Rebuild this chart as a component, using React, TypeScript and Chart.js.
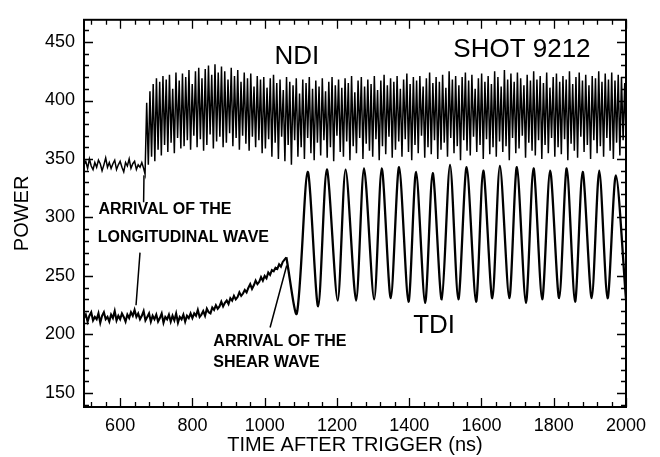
import React, { useEffect, useRef } from 'react';
import { Chart, registerables } from 'chart.js';

Chart.register(...registerables);

const FONT = '"Liberation Sans", Arial, Helvetica, sans-serif';

// Axis ranges and ticks
const X_MIN = 500;
const X_MAX = 2000;
const Y_MIN = 138;
const Y_MAX = 469;
const X_TICKS = [600, 800, 1000, 1200, 1400, 1600, 1800, 2000];
const Y_TICKS = [150, 200, 250, 300, 350, 400, 450];
const X_MINOR_STEP = 40;
const X_MAJOR_STEP = 200;
const Y_MINOR_STEP = 10;
const Y_MAJOR_STEP = 50;

// NDI signal: flat noisy part (sampled every 5 ns from 500 ns)
const NDI_PRE_START = 500;
const NDI_PRE_STEP = 5;
const NDI_PRE = [
  345, 348, 342, 350, 344, 341, 347, 343, 349, 346, 340, 345, 351, 343, 347, 342, 346,
  349, 341, 345, 348, 343, 339, 347, 344, 350, 342, 346, 348, 341, 345, 343, 347, 342,
];

// NDI signal after arrival of longitudinal wave (alternating extremes, every 4.5 ns from 669 ns)
const NDI_OSC_START = 669;
const NDI_OSC_STEP = 4.5;
const NDI_OSC = [
  337,
  398, 345, 408, 352, 414, 348, 419, 358, 416, 353, 421, 362,
  418, 356, 422, 364, 410, 355, 424, 368, 417, 359, 423, 361,
  420, 366, 426, 358, 414, 370, 425, 360, 428, 367, 419, 357,
  427, 362, 430, 371, 422, 359, 431, 365, 424, 369, 429, 360,
  425, 364, 418, 372, 428, 361, 421, 368, 426, 358, 416, 370,
  424, 363, 419, 357, 423, 369, 412, 360, 421, 366, 418, 355,
  420, 359, 411, 367, 419, 352, 422, 364, 415, 350, 418, 369,
  409, 348, 420, 362, 416, 345, 413, 366, 419, 352, 406, 360,
  418, 350, 415, 368, 420, 355, 410, 349, 417, 364, 412, 353,
  419, 366, 408, 351, 416, 360, 420, 348, 413, 370, 418, 356,
  411, 352, 419, 365, 415, 349, 421, 361, 407, 355, 417, 368,
  420, 350, 412, 363, 418, 357, 414, 352, 421, 367, 409, 349,
  417, 361, 422, 354, 413, 369, 419, 351, 416, 358, 421, 365,
  410, 352, 418, 367, 423, 356, 414, 349, 420, 362, 417, 355,
  421, 370, 412, 351, 419, 360, 424, 354, 415, 366, 420, 350,
  416, 358, 422, 364, 411, 352, 425, 368, 418, 355, 421, 361,
  413, 349, 420, 366, 424, 357, 417, 353, 422, 369, 410, 356,
  419, 362, 423, 350, 416, 367, 421, 354, 414, 360, 425, 352,
  420, 365, 412, 356, 426, 361, 418, 349, 423, 368, 416, 355,
  424, 359, 419, 370, 413, 351, 422, 364, 417, 357, 425, 353,
  418, 366, 421, 350, 415, 362, 424, 355, 411, 368, 420, 352,
  423, 360, 416, 354, 421, 367, 418, 349, 425, 363, 414, 357,
  420, 351, 424, 369, 417, 356, 422, 362, 413, 350, 421, 366,
  419, 355, 425, 361, 416, 352, 423, 368, 418, 357, 424, 350,
  417, 364, 422, 353, 420, 366, 415, 356, 423, 360, 419, 358,
];

// TDI signal before shear wave (every 5 ns from 500 ns to 1060 ns)
const TDI_PRE_START = 500;
const TDI_PRE_STEP = 5;
const TDI_PRE = [
  214, 217, 211, 216, 219, 212, 215, 213, 218, 210,
  216, 219, 213, 215, 211, 217, 214, 220, 212, 216,
  213, 218, 215, 211, 217, 214, 219, 216, 221, 215,
  218, 213, 216, 220, 212, 215, 218, 211, 216, 213,
  217, 211, 214, 218, 210, 215, 213, 217, 211, 216,
  212, 218, 210, 215, 213, 217, 211, 216, 214, 218,
  214, 218, 216, 221, 215, 217, 220, 216, 222, 219,
  218, 223, 221, 225, 222, 224, 228, 224, 227, 229,
  226, 231, 229, 233, 230, 232, 236, 233, 235, 238,
  236, 240, 243, 239, 242, 246, 243, 245, 249, 246,
  250, 248, 253, 251, 255, 254, 257, 256, 260, 258,
  262, 264, 266,
];

// TDI oscillation after shear wave arrival: extremes (time ns, power)
const TDI_OSC_T = [
  1060, 1089, 1119, 1148, 1172, 1202, 1224, 1253, 1275, 1303, 1324, 1349, 1372, 1398,
  1419, 1444, 1465, 1490, 1513, 1536, 1559, 1585, 1605, 1630, 1651, 1677, 1698, 1723,
  1744, 1768, 1790, 1815, 1836, 1859, 1880, 1905, 1926, 1949, 1972, 2000,
];
const TDI_OSC_V = [
  266, 218, 339, 224, 341, 229, 341, 229, 342, 230, 342, 231, 343, 228,
  339, 227, 338, 230, 345, 230, 343, 228, 340, 231, 344, 231, 343, 227,
  342, 230, 340, 231, 342, 228, 339, 231, 340, 231, 336, 230,
];

// Annotation texts (anchored in data coordinates)
const LABELS = [
  { text: 'NDI', t: 1089, v: 437, size: 26, weight: 'normal', align: 'center' },
  { text: 'SHOT 9212', t: 1712, v: 443.5, size: 26, weight: 'normal', align: 'center' },
  { text: 'TDI', t: 1469, v: 207, size: 26, weight: 'normal', align: 'center' },
  { text: 'ARRIVAL OF THE', t: 540, v: 306.5, size: 16, weight: 'bold', align: 'left' },
  { text: 'LONGITUDINAL WAVE', t: 538, v: 282.5, size: 16, weight: 'bold', align: 'left' },
  { text: 'ARRIVAL OF THE', t: 858, v: 193.5, size: 16, weight: 'bold', align: 'left' },
  { text: 'SHEAR WAVE', t: 858, v: 176, size: 16, weight: 'bold', align: 'left' },
];

// Pointer lines (data coordinates)
const POINTERS = [
  { t1: 666, v1: 336, t2: 665, v2: 313 },
  { t1: 655, v1: 270, t2: 644, v2: 225 },
  { t1: 1015, v1: 206, t2: 1061, v2: 259 },
];

function series(start: number, step: number, values: number[]) {
  return values.map((v, i) => ({ x: start + i * step, y: v }));
}

const framePlugin = {
  id: 'frameTicksLabels',
  afterDatasetsDraw(chart: any) {
    const { ctx, chartArea: a, scales } = chart;
    const xs = scales.x;
    const ys = scales.y;
    ctx.save();
    ctx.strokeStyle = '#000';
    ctx.lineCap = 'butt';
    // inward ticks
    ctx.lineWidth = 1.3;
    ctx.beginPath();
    for (let t = Math.ceil(X_MIN / X_MINOR_STEP) * X_MINOR_STEP; t <= X_MAX; t += X_MINOR_STEP) {
      const px = Math.round(xs.getPixelForValue(t)) + 0.5;
      const len = t % X_MAJOR_STEP === 0 ? 9 : 5;
      ctx.moveTo(px, a.bottom);
      ctx.lineTo(px, a.bottom - len);
      ctx.moveTo(px, a.top);
      ctx.lineTo(px, a.top + len);
    }
    for (let v = Math.ceil(Y_MIN / Y_MINOR_STEP) * Y_MINOR_STEP; v <= Y_MAX; v += Y_MINOR_STEP) {
      const py = Math.round(ys.getPixelForValue(v)) + 0.5;
      const len = v % Y_MAJOR_STEP === 0 ? 9 : 5;
      ctx.moveTo(a.left, py);
      ctx.lineTo(a.left + len, py);
      ctx.moveTo(a.right, py);
      ctx.lineTo(a.right - len, py);
    }
    ctx.stroke();
    // frame
    ctx.lineWidth = 2;
    ctx.strokeRect(a.left, a.top, a.right - a.left, a.bottom - a.top);

    // pointer lines
    ctx.lineWidth = 1.5;
    ctx.beginPath();
    for (const p of POINTERS) {
      ctx.moveTo(xs.getPixelForValue(p.t1), ys.getPixelForValue(p.v1));
      ctx.lineTo(xs.getPixelForValue(p.t2), ys.getPixelForValue(p.v2));
    }
    ctx.stroke();

    // labels
    ctx.fillStyle = '#000';
    ctx.textBaseline = 'middle';
    for (const l of LABELS) {
      ctx.font = `${l.weight} ${l.size}px ${FONT}`;
      ctx.textAlign = l.align as CanvasTextAlign;
      ctx.fillText(l.text, xs.getPixelForValue(l.t), ys.getPixelForValue(l.v));
    }
    ctx.restore();
  },
};

export default function App() {
  const ref = useRef<HTMLCanvasElement | null>(null);

  useEffect(() => {
    document.body.style.margin = '0';
    const canvas = ref.current;
    if (!canvas) return;
    const chart = new Chart(canvas, {
      type: 'line',
      data: {
        datasets: [
          {
            label: 'NDI',
            data: [
              ...series(NDI_PRE_START, NDI_PRE_STEP, NDI_PRE),
              ...series(NDI_OSC_START, NDI_OSC_STEP, NDI_OSC),
            ],
            borderColor: '#000',
            borderWidth: 1.5,
            pointRadius: 0,
            tension: 0,
          },
          {
            label: 'TDI pre',
            data: series(TDI_PRE_START, TDI_PRE_STEP, TDI_PRE),
            borderColor: '#000',
            borderWidth: 2.1,
            pointRadius: 0,
            tension: 0,
          },
          {
            label: 'TDI',
            data: TDI_OSC_T.map((t, i) => ({ x: t, y: TDI_OSC_V[i] })),
            borderColor: '#000',
            borderWidth: 2.3,
            pointRadius: 0,
            tension: 0.28,
          },
        ],
      },
      options: {
        animation: false,
        responsive: false,
        devicePixelRatio: 1,
        layout: { padding: { top: 13, right: 34, left: 0, bottom: 0 } },
        plugins: { legend: { display: false }, tooltip: { enabled: false } },
        scales: {
          x: {
            type: 'linear',
            min: X_MIN,
            max: X_MAX,
            afterBuildTicks: (s: any) => {
              s.ticks = X_TICKS.map((v) => ({ value: v }));
            },
            afterFit: (s: any) => {
              s.height = 50;
            },
            ticks: {
              callback: (v: any) => String(v),
              font: { family: FONT, size: 18 },
              color: '#000',
              padding: 8,
              maxRotation: 0,
              autoSkip: false,
            },
            grid: { display: false, drawTicks: false },
            border: { display: false },
            title: {
              display: true,
              text: 'TIME AFTER TRIGGER (ns)',
              font: { family: FONT, size: 20 },
              color: '#000',
              padding: { top: 0, bottom: 0 },
            },
          },
          y: {
            type: 'linear',
            min: Y_MIN,
            max: Y_MAX,
            afterBuildTicks: (s: any) => {
              s.ticks = Y_TICKS.map((v) => ({ value: v }));
            },
            afterFit: (s: any) => {
              s.width = 84;
            },
            ticks: {
              callback: (v: any) => String(v),
              font: { family: FONT, size: 18 },
              color: '#000',
              padding: 9,
              autoSkip: false,
            },
            grid: { display: false, drawTicks: false },
            border: { display: false },
            title: {
              display: true,
              text: 'POWER',
              font: { family: FONT, size: 20 },
              color: '#000',
              padding: { top: 10, bottom: 0 },
            },
          },
        },
      },
      plugins: [framePlugin],
    } as any);
    return () => chart.destroy();
  }, []);

  return (
    <div style={{ width: 660, height: 457 }}>
      <canvas ref={ref} width={660} height={457} style={{ display: 'block' }} />
    </div>
  );
}
